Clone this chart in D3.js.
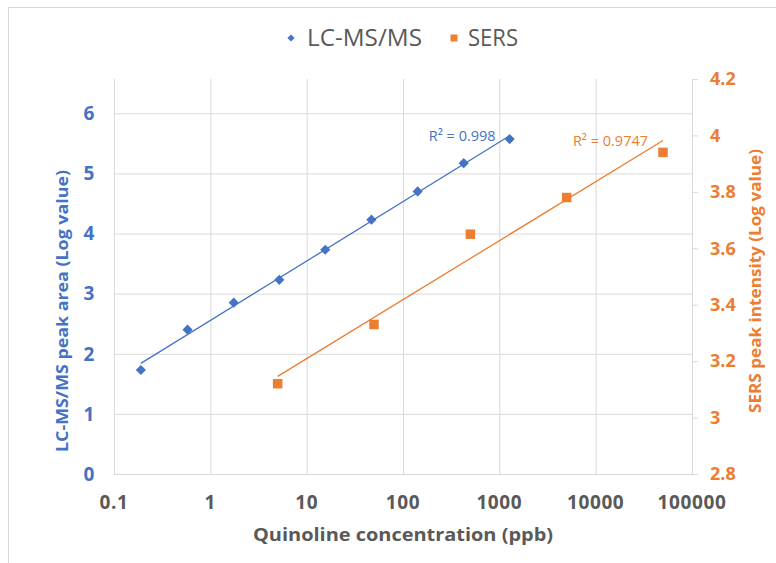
<!DOCTYPE html>
<html>
<head>
<meta charset="utf-8">
<script src="https://cdn.jsdelivr.net/npm/d3@7"></script>
<style>
  body { margin: 0; background: #fff; }
  svg { display: block; font-family: "Open Sans", sans-serif; }
</style>
</head>
<body>
<svg id="chart"></svg>
<script>
// data
var seriesNames = ["LC-MS/MS", "SERS"];
var lcConc = [0.19, 0.58, 1.75, 5.2, 15.6, 47, 142, 427, 1280];
var lcArea = [1.73, 2.40, 2.85, 3.23, 3.73, 4.23, 4.70, 5.17, 5.57];
var sersConc = [5, 50, 500, 5000, 50000];
var sersInt = [3.12, 3.33, 3.65, 3.78, 3.94];
var r2Labels = ["R\u00b2 = 0.998", "R\u00b2 = 0.9747"];

var xTicks = [0.1, 1, 10, 100, 1000, 10000, 100000];
var xTickLabels = ["0.1", "1", "10", "100", "1000", "10000", "100000"];
var leftTicks = [0, 1, 2, 3, 4, 5, 6];
var rightTicks = [2.8, 3, 3.2, 3.4, 3.6, 3.8, 4, 4.2];

var blue = "#4472C4", orange = "#ED7D31", grey = "#595959", grid = "#D9D9D9";

var W = 776, H = 563;
var pLeft = 114, pRight = 692, pTop = 79, pBottom = 474;

var svg = d3.select("#chart").attr("width", W).attr("height", H);

// chart frame (cropped screenshot)
svg.append("rect").attr("x", 8.5).attr("y", 7.5).attr("width", 800).attr("height", 600)
    .attr("fill", "none").attr("stroke", grid);

var x = d3.scaleLog().domain([0.1, 100000]).range([pLeft, pRight]);
var yL = d3.scaleLinear().domain([0, 6.57]).range([pBottom, pTop]);
var yR = d3.scaleLinear().domain([2.8, 4.2]).range([pBottom, pTop]);

// vertical grid
svg.append("g")
    .attr("transform", "translate(0," + pBottom + ")")
    .call(d3.axisBottom(x).tickValues(xTicks).tickSize(-(pBottom - pTop)).tickFormat(""))
    .call(function(g) {
        g.select(".domain").remove();
        g.selectAll("line").attr("stroke", grid);
    });

// horizontal grid from left axis
svg.append("g")
    .attr("transform", "translate(" + pLeft + ",0)")
    .call(d3.axisLeft(yL).tickValues(leftTicks).tickSize(-(pRight - pLeft)).tickFormat(""))
    .call(function(g) {
        g.select(".domain").remove();
        g.selectAll("line").attr("stroke", grid);
    });

// x tick labels
svg.append("g").selectAll("text").data(xTicks).enter().append("text")
    .attr("x", function(d) { return x(d); })
    .attr("y", 509)
    .attr("text-anchor", "middle")
    .attr("fill", grey)
    .style("font-size", "19px").style("font-weight", "bold").style("letter-spacing", "0.6px")
    .text(function(d, i) { return xTickLabels[i]; });

// left tick labels
svg.append("g").selectAll("text").data(leftTicks).enter().append("text")
    .attr("x", 89)
    .attr("y", function(d) { return yL(d); })
    .attr("dy", "0.36em")
    .attr("text-anchor", "middle")
    .attr("fill", blue)
    .style("font-size", "19px").style("font-weight", "bold")
    .text(function(d) { return d; });

// right axis
svg.append("g")
    .attr("transform", "translate(" + pRight + ",0)")
    .call(d3.axisRight(yR).tickValues(rightTicks).tickSize(6).tickPadding(12)
        .tickFormat(function(d) { return String(+d.toFixed(1)); }))
    .call(function(g) {
        g.select(".domain").attr("stroke", grid);
        g.selectAll("line").attr("stroke", grid);
        g.selectAll("text").attr("fill", orange)
            .style("font-size", "18px").style("font-weight", "bold")
            .style("font-family", "'Open Sans', sans-serif");
    });

// axis titles
svg.append("text")
    .attr("transform", "translate(62,311) rotate(-90)")
    .attr("dy", "0.36em")
    .attr("text-anchor", "middle")
    .attr("fill", blue)
    .style("font-size", "16px").style("font-weight", "bold")
    .attr("textLength", 282).attr("lengthAdjust", "spacingAndGlyphs")
    .text("LC-MS/MS peak area (Log value)");

svg.append("text")
    .attr("transform", "translate(755,281) rotate(-90)")
    .attr("dy", "0.36em")
    .attr("text-anchor", "middle")
    .attr("fill", orange)
    .style("font-size", "16px").style("font-weight", "bold")
    .attr("textLength", 264).attr("lengthAdjust", "spacingAndGlyphs")
    .text("SERS peak intensity (Log value)");

svg.append("text")
    .attr("x", 403).attr("y", 541)
    .attr("text-anchor", "middle")
    .attr("fill", grey)
    .style("font-size", "18px").style("font-weight", "bold")
    .attr("textLength", 300).attr("lengthAdjust", "spacingAndGlyphs")
    .text("Quinoline concentration (ppb)");

// linear fit of y against log10(x)
function fit(xs, ys) {
    var lx = xs.map(function(v) { return Math.log10(v); });
    var mx = d3.mean(lx), my = d3.mean(ys);
    var sxy = d3.sum(lx, function(v, i) { return (v - mx) * (ys[i] - my); });
    var sxx = d3.sum(lx, function(v) { return (v - mx) * (v - mx); });
    var b = sxy / sxx, a = my - b * mx;
    return function(c) { return a + b * Math.log10(c); };
}

var lcFit = fit(lcConc, lcArea);
var sersFit = fit(sersConc, sersInt);
var lcEnds = d3.extent(lcConc), sersEnds = d3.extent(sersConc);

svg.append("line")
    .attr("x1", x(lcEnds[0])).attr("y1", yL(lcFit(lcEnds[0])))
    .attr("x2", x(lcEnds[1])).attr("y2", yL(lcFit(lcEnds[1])))
    .attr("stroke", blue).attr("stroke-width", 1.3);

svg.append("line")
    .attr("x1", x(sersEnds[0])).attr("y1", yR(sersFit(sersEnds[0])))
    .attr("x2", x(sersEnds[1])).attr("y2", yR(sersFit(sersEnds[1])))
    .attr("stroke", orange).attr("stroke-width", 1.3);

// markers
var diamond = d3.symbol().type(d3.symbolSquare).size(52);
var square = d3.symbol().type(d3.symbolSquare).size(90);

svg.append("g").selectAll("path").data(lcConc).enter().append("path")
    .attr("d", diamond)
    .attr("transform", function(d, i) { return "translate(" + x(d) + "," + yL(lcArea[i]) + ") rotate(45)"; })
    .attr("fill", blue);

svg.append("g").selectAll("path").data(sersConc).enter().append("path")
    .attr("d", square)
    .attr("transform", function(d, i) { return "translate(" + x(d) + "," + yR(sersInt[i]) + ")"; })
    .attr("fill", orange);

// R² labels near the end of each fit
var lastLc = lcConc.length - 1, lastS = sersConc.length - 1;
svg.append("text")
    .attr("x", x(lcConc[lastLc]) - 14).attr("y", yL(lcArea[lastLc]) + 2)
    .attr("text-anchor", "end").attr("fill", blue)
    .style("font-size", "14.5px")
    .text(r2Labels[0]);

svg.append("text")
    .attr("x", x(sersConc[lastS]) - 15).attr("y", yR(sersInt[lastS]) - 6)
    .attr("text-anchor", "end").attr("fill", orange)
    .style("font-size", "14.5px")
    .text(r2Labels[1]);

// legend
var legend = svg.append("g").attr("transform", "translate(0,38)");
legend.append("path").attr("d", d3.symbol().type(d3.symbolSquare).size(26))
    .attr("transform", "translate(291,0) rotate(45)").attr("fill", blue);
legend.append("text").attr("x", 307).attr("y", 8).attr("fill", grey)
    .style("font-size", "23px")
    .attr("textLength", 115).attr("lengthAdjust", "spacingAndGlyphs")
    .text(seriesNames[0]);
legend.append("path").attr("d", d3.symbol().type(d3.symbolSquare).size(49))
    .attr("transform", "translate(454,0)").attr("fill", orange);
legend.append("text").attr("x", 468).attr("y", 8).attr("fill", grey)
    .style("font-size", "23px")
    .attr("textLength", 50).attr("lengthAdjust", "spacingAndGlyphs")
    .text(seriesNames[1]);
</script>
</body>
</html>
